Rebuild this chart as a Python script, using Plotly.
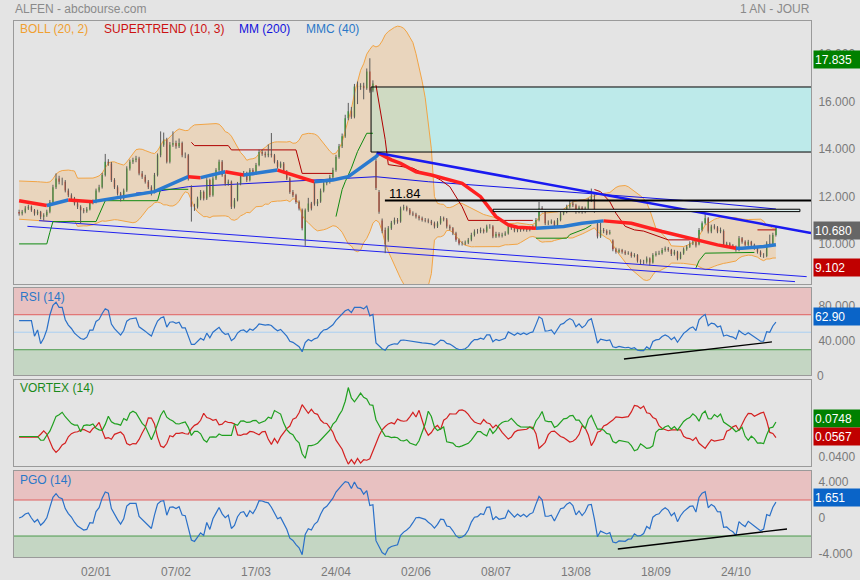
import numpy as np
import pandas as pd
import plotly.graph_objects as go

# ---------------- data (bar index 0..246) ----------------
closes = [11.29,11.36,11.50,11.57,11.43,11.29,11.36,11.15,11.22,11.36,
11.78,12.40,12.77,12.63,12.63,12.26,12.06,11.92,11.71,11.57,
11.43,11.39,11.47,11.78,11.78,12.26,12.40,12.91,13.47,13.40,
12.70,12.40,12.13,11.92,12.26,13.19,13.47,13.54,13.61,12.98,
12.84,12.63,12.40,12.20,12.91,13.74,14.19,14.40,13.47,14.19,
14.26,14.12,14.26,13.74,13.74,12.77,11.57,11.57,11.92,12.20,
11.92,12.70,12.06,12.77,13.12,13.47,12.91,12.54,12.63,11.57,
11.85,12.54,12.91,12.98,12.70,13.12,12.98,13.33,13.88,13.81,
13.74,13.81,13.74,13.47,13.26,13.40,13.05,12.77,12.20,12.06,
11.78,11.50,10.67,11.43,11.71,11.50,11.70,11.80,12.25,12.57,
12.62,12.82,13.12,13.67,14.12,14.55,15.30,15.60,15.37,16.64,
16.62,16.67,16.57,17.27,16.47,16.77,12.37,11.36,10.55,10.00,
10.67,10.90,11.02,10.95,11.50,11.55,11.45,11.29,11.25,11.16,
11.09,11.02,11.00,10.95,10.88,10.74,10.88,11.09,11.04,10.74,
10.67,10.46,10.18,10.03,10.03,10.07,10.18,10.39,10.53,10.53,
10.60,10.53,10.74,10.74,10.32,10.43,10.35,10.40,10.45,10.74,
10.67,10.57,10.67,10.60,10.67,10.60,10.67,10.70,11.02,11.50,
11.43,10.88,10.90,10.95,10.74,11.02,11.29,11.36,11.57,11.71,
11.64,11.36,11.54,11.36,11.50,11.85,11.99,11.40,10.32,10.60,
10.55,10.45,10.50,9.78,9.68,9.75,9.68,9.61,9.63,9.50,
9.54,9.30,9.26,9.26,9.40,9.23,9.54,9.61,9.63,9.75,
9.82,9.75,9.58,9.68,9.40,9.61,9.78,9.89,10.03,10.10,
9.94,10.60,10.88,11.09,10.53,10.74,10.70,10.53,10.60,9.97,
10.03,9.94,9.89,9.75,10.25,10.10,9.97,10.10,9.97,9.84,
9.68,9.54,9.54,10.03,9.99,10.39,10.68]

opens = [11.35,11.29,11.36,11.50,11.57,11.43,11.29,11.36,11.15,11.22,
11.36,11.78,12.40,12.77,12.63,12.63,12.26,12.06,11.92,11.71,
11.57,11.43,11.39,11.47,11.78,11.78,12.26,12.40,12.91,13.47,
13.40,12.70,12.40,12.13,11.92,12.26,13.19,13.47,13.54,13.61,
12.98,12.84,12.63,12.40,12.20,12.91,13.74,14.19,14.40,13.47,
14.19,14.26,14.12,14.26,13.74,13.74,12.40,11.57,11.57,11.92,
12.20,11.92,12.70,12.06,12.77,13.12,13.47,12.91,12.54,12.63,
11.57,11.85,12.54,12.91,12.98,12.70,13.12,12.98,13.33,13.88,
13.81,13.74,13.81,13.74,13.47,13.26,13.40,13.05,12.77,12.20,
12.06,11.78,11.45,10.20,11.43,11.71,12.55,11.70,11.80,12.25,
12.57,12.62,12.82,13.12,13.67,14.12,14.55,15.30,15.60,15.37,
16.64,16.62,16.67,16.57,17.27,16.47,13.50,12.20,11.00,10.60,
10.18,10.67,10.90,11.02,10.95,11.50,11.55,11.45,11.29,11.25,
11.16,11.09,11.02,11.00,10.95,10.88,10.74,10.88,11.09,11.04,
10.74,10.67,10.46,10.18,10.03,10.03,10.07,10.18,10.39,10.53,
10.53,10.60,10.53,10.74,10.74,10.32,10.43,10.35,10.40,10.45,
10.74,10.67,10.57,10.67,10.60,10.67,10.60,10.67,10.70,11.02,
11.50,11.43,10.88,10.90,10.95,10.74,11.02,11.29,11.36,11.57,
11.71,11.64,11.36,11.54,11.36,11.50,11.85,11.90,10.85,10.32,
10.60,10.55,10.45,10.15,9.78,9.68,9.75,9.68,9.61,9.63,
9.50,9.54,9.30,9.26,9.26,9.40,9.23,9.54,9.61,9.63,
9.75,9.82,9.75,9.58,9.68,9.40,9.61,9.78,9.89,10.03,
10.10,10.00,10.60,10.88,11.09,10.53,10.74,10.70,10.53,10.55,
9.97,10.03,9.94,9.89,9.75,10.25,10.10,9.97,10.10,9.97,
9.84,9.68,9.54,9.50,10.03,9.99,10.39]

highs = [11.45,11.44,11.60,11.66,11.63,11.48,11.45,11.40,11.30,11.45,
11.86,12.50,12.98,12.88,12.80,12.70,12.34,12.14,11.99,11.80,
11.64,11.52,11.56,11.86,11.88,12.34,12.50,13.00,13.80,13.58,
13.46,12.78,12.48,12.20,12.34,13.28,13.56,13.64,13.72,13.68,
13.08,12.92,12.70,12.48,13.00,13.82,14.75,14.70,14.48,14.30,
14.75,14.36,14.45,14.32,13.86,13.80,12.48,11.70,12.00,12.28,
12.26,12.78,12.76,12.85,13.20,13.56,13.54,12.98,12.72,12.68,
11.94,12.62,13.00,13.08,13.05,13.20,13.20,13.42,13.98,13.98,
13.90,14.20,14.68,13.80,13.54,13.48,13.46,13.12,12.82,12.28,
12.12,11.84,11.50,11.50,11.95,11.78,12.62,11.90,12.34,12.66,
12.72,12.92,13.22,13.76,14.22,14.66,15.45,15.95,15.78,16.75,
16.85,16.78,16.80,17.40,17.83,16.90,13.60,12.28,11.08,10.70,
10.76,10.98,11.12,11.10,11.58,11.66,11.62,11.52,11.38,11.32,
11.22,11.16,11.10,11.08,11.02,10.95,10.96,11.18,11.16,11.10,
10.82,10.72,10.52,10.24,10.12,10.15,10.26,10.48,10.62,10.64,
10.70,10.66,10.82,10.84,10.80,10.52,10.50,10.48,10.54,10.82,
10.80,10.72,10.75,10.74,10.75,10.72,10.75,10.80,11.10,11.78,
11.60,11.48,11.00,11.04,11.00,11.10,11.38,11.45,11.66,11.82,
11.80,11.70,11.62,11.60,11.58,11.94,12.34,12.10,10.92,10.90,
10.68,10.62,10.60,10.20,9.85,9.82,9.80,9.74,9.70,9.68,
9.62,9.58,9.36,9.34,9.48,9.44,9.62,9.70,9.72,9.84,
9.90,9.88,9.80,9.76,9.72,9.68,9.86,9.96,10.12,10.18,
10.15,10.68,10.96,11.30,11.14,10.82,10.84,10.76,10.70,10.62,
10.10,10.08,10.00,9.94,10.34,10.30,10.16,10.18,10.14,10.02,
9.90,9.74,9.62,10.12,10.40,10.48,10.76]

lows = [11.20,11.21,11.30,11.44,11.36,11.20,11.22,11.05,11.00,11.15,
11.30,11.72,12.32,12.52,12.48,12.18,11.98,11.84,11.63,11.48,
10.88,11.30,11.32,11.42,11.68,11.72,12.18,12.34,12.85,13.30,
12.62,12.32,12.05,11.80,11.86,12.20,13.10,13.38,13.45,12.90,
12.75,12.55,12.32,12.05,12.14,12.85,13.66,14.10,13.40,13.40,
14.10,14.02,14.05,13.66,13.62,12.68,10.95,11.40,11.50,11.85,
11.84,11.86,11.98,12.00,12.70,13.05,12.84,12.46,12.46,11.48,
11.50,11.80,12.48,12.84,12.62,12.64,12.90,12.92,13.28,13.72,
13.65,13.66,13.65,13.40,13.18,13.20,12.98,12.70,12.12,11.98,
11.70,11.42,10.58,9.93,11.36,11.42,11.62,11.60,11.74,12.18,
12.48,12.55,12.75,13.05,13.60,14.05,14.48,15.22,15.28,15.30,
15.90,16.50,16.10,16.50,16.38,16.40,12.28,11.28,10.46,9.62,
10.10,10.60,10.82,10.86,10.90,11.42,11.38,11.22,11.18,11.08,
11.00,10.95,10.92,10.88,10.80,10.66,10.68,10.82,10.96,10.66,
10.58,10.38,10.10,9.95,9.94,9.96,10.00,10.12,10.32,10.44,
10.46,10.45,10.48,10.65,10.25,10.26,10.28,10.28,10.34,10.40,
10.60,10.50,10.50,10.52,10.54,10.52,10.54,10.60,10.64,10.96,
11.34,10.80,10.80,10.84,10.66,10.68,10.96,11.22,11.30,11.50,
11.56,11.28,11.30,11.28,11.30,11.44,11.78,11.32,10.24,10.26,
10.46,10.38,10.40,9.70,9.60,9.62,9.60,9.54,9.55,9.43,
9.44,9.22,9.14,9.15,9.18,9.10,9.18,9.48,9.54,9.56,
9.68,9.68,9.50,9.52,9.32,9.36,9.55,9.72,9.84,9.96,
9.86,9.95,10.54,10.82,10.45,10.46,10.62,10.46,10.46,9.90,
9.90,9.86,9.82,9.68,9.70,10.02,9.90,9.90,9.90,9.76,
9.60,9.46,9.42,9.45,9.92,9.94,10.32]

# Bollinger band values read for the first 19 bars (window still filling with visible data)
bb_up_head = [12.66,12.66,12.66,12.65,12.65,12.64,12.63,12.62,12.60,12.60,
              12.62,12.75,12.95,13.05,13.10,13.12,13.12,13.10,13.08]
bb_dn_head = [11.05,11.04,11.03,11.02,11.01,11.00,11.00,10.99,10.98,10.97,
              10.96,10.94,10.93,10.93,10.94,10.95,10.96,10.97,10.98]

# date tick labels (every 26 bars starting at bar 25)
tick_idx = [25, 51, 77, 103, 129, 155, 181, 207, 233]
tick_lab = ["02/01", "07/02", "17/03", "24/04", "02/06", "08/07", "13/08", "18/09", "24/10"]

# MMC(40) coloured moving average, read points (bar, value)
mmc_i = [0, 8, 9, 16, 24, 44, 55, 59, 67, 73, 84, 96, 102, 107, 111, 116, 117, 121, 124, 129, 134,
         144, 150, 155, 159, 162, 168, 177, 183, 190, 194, 199, 209, 220, 227, 233, 235, 242, 246]
mmc_v = [11.83, 11.65, 11.63, 11.86, 11.79, 12.21, 12.84, 12.80, 13.05, 12.91, 13.12, 12.63, 12.70,
         12.84, 13.20, 13.68, 13.82, 13.55, 13.40, 13.05, 12.91, 12.56, 12.00, 11.16, 10.81, 10.71,
         10.67, 10.74, 10.88, 10.98, 10.95, 10.88, 10.53, 10.18, 9.97, 9.83, 9.83, 9.90, 9.97]

# MM(200)
mm200_i = [38, 44, 55, 116, 133, 213, 221, 246]
mm200_v = [12.15, 12.21, 12.42, 12.84, 12.63, 11.86, 11.79, 11.48]

# SUPERTREND (10,3) segments
st_up = [([0, 9, 10, 11, 25, 27, 28, 45, 46, 55],
          [10.01, 10.01, 10.5, 10.95, 10.95, 11.5, 11.83, 11.83, 12.31, 12.31]),
         ([103, 104, 105, 106, 108, 110, 112, 113, 115],
          [11.16, 11.7, 12.3, 12.63, 13.2, 13.9, 14.4, 14.67, 14.67]),
         ([168, 178, 179, 184, 186], [10.25, 10.25, 10.4, 10.65, 10.8]),
         ([220, 221, 223, 239], [9.0, 9.3, 9.62, 9.65])]
st_dn = [([56, 57, 68, 69, 90, 92, 102], [14.29, 14.15, 14.15, 13.97, 13.97, 12.98, 12.98]),
         ([116, 119, 120, 128, 131, 134, 137, 140, 144, 146, 167],
          [16.7, 14.4, 13.35, 13.2, 13.0, 12.91, 12.7, 12.42, 11.58, 11.0, 11.0]),
         ([187, 189, 192, 194, 197, 200, 203, 206, 209, 211, 218],
          [12.3, 12.21, 11.79, 11.3, 10.75, 10.6, 10.55, 10.4, 10.25, 10.18, 10.18]),
         ([240, 246], [10.6, 10.6])]

# drawn objects (bar, price)
trend_i, trend_v = [116.2, 257.4], [13.85, 10.47]
res_i, res_v = [118.9, 257.4], [11.84, 11.84]
chanA_i, chanA_v = [6.5, 256.0], [10.99, 8.63]
chanB_i, chanB_v = [2.7, 252.2], [10.75, 8.42]
rect_i, rect_v = [114.4, 257.4], [13.88, 16.62]
srect_i, srect_v = [154.1, 253.8], [11.37, 11.47]
rsi_tl_i, rsi_tl_v = [196.6, 244.7], [19.4, 38.9]
pgo_tl_i, pgo_tl_v = [194.6, 249.6], [-3.44, -1.22]

# ---------------- indicators ----------------
N = len(closes)
idx = np.arange(N)
c = pd.Series(closes, dtype=float)
h = pd.Series(highs, dtype=float)
l = pd.Series(lows, dtype=float)

mid = c.rolling(20, min_periods=1).mean()
sd = c.rolling(20, min_periods=1).std(ddof=0)
bb_up = (mid + 2 * sd).to_numpy()
bb_dn = (mid - 2 * sd).to_numpy()
bb_up[:len(bb_up_head)] = bb_up_head
bb_dn[:len(bb_dn_head)] = bb_dn_head

d = c.diff()
gain = d.clip(lower=0).fillna(0)
loss = (-d.clip(upper=0)).fillna(0)
ag = gain.ewm(alpha=1 / 14, adjust=True).mean()
al = loss.ewm(alpha=1 / 14, adjust=True).mean()
rsi = (100 - 100 / (1 + ag / al.replace(0, np.nan))).bfill()

pc = c.shift()
tr = pd.concat([h - l, (h - pc).abs(), (l - pc).abs()], axis=1).max(axis=1)
atr = tr.ewm(span=14, adjust=True).mean()
pgo = (c - c.rolling(14, min_periods=1).mean()) / atr

vmp = (h - l.shift()).abs()
vmm = (l - h.shift()).abs()
trs = tr.rolling(14, min_periods=6).sum()
vip = (vmp.rolling(14, min_periods=6).sum() / trs / 14).bfill()
vim = (vmm.rolling(14, min_periods=6).sum() / trs / 14).bfill()

# ---------------- figure ----------------
BG = "#e4e4e4"
FONT = "Liberation Sans, Arial, sans-serif"
GRAY = "#7a7a7a"
fig = go.Figure()

# Bollinger band
fig.add_trace(go.Scatter(x=idx, y=bb_dn, mode="lines", line=dict(color="#f2a444", width=1),
                         xaxis="x", yaxis="y", hoverinfo="skip"))
fig.add_trace(go.Scatter(x=idx, y=bb_up, mode="lines", line=dict(color="#f2a444", width=1),
                         fill="tonexty", fillcolor="rgba(245,185,110,0.32)",
                         xaxis="x", yaxis="y", hoverinfo="skip"))

# MM200
fig.add_trace(go.Scatter(x=mm200_i, y=mm200_v, mode="lines", line=dict(color="#1515e6", width=1),
                         xaxis="x", yaxis="y"))

# channel lines
for xi, yv in [(chanA_i, chanA_v), (chanB_i, chanB_v)]:
    fig.add_trace(go.Scatter(x=xi, y=yv, mode="lines", line=dict(color="#2020f0", width=1),
                             xaxis="x", yaxis="y"))

# supertrend
for xi, yv in st_up:
    fig.add_trace(go.Scatter(x=xi, y=yv, mode="lines", line=dict(color="#108a10", width=1),
                             xaxis="x", yaxis="y"))
for xi, yv in st_dn:
    fig.add_trace(go.Scatter(x=xi, y=yv, mode="lines", line=dict(color="#b00000", width=1),
                             xaxis="x", yaxis="y"))

# wicks
wx, wy = [], []
for i in range(N):
    wx += [i, i, None]
    wy += [lows[i], highs[i], None]
fig.add_trace(go.Scatter(x=wx, y=wy, mode="lines", line=dict(color="#5a5a5a", width=1),
                         xaxis="x", yaxis="y"))

# candles
fig.add_trace(go.Candlestick(x=idx, open=opens, high=highs, low=lows, close=closes,
                             increasing=dict(fillcolor="#22d322", line=dict(color="#22d322", width=0)),
                             decreasing=dict(fillcolor="#ee2a1a", line=dict(color="#ee2a1a", width=0)),
                             whiskerwidth=0, xaxis="x", yaxis="y"))

# MMC40 coloured by slope
runs = []
rx, ry, cur = [mmc_i[0]], [mmc_v[0]], None
for k in range(1, len(mmc_i)):
    dr = "up" if mmc_v[k] >= mmc_v[k - 1] else "dn"
    if cur is None or dr == cur:
        rx.append(mmc_i[k]); ry.append(mmc_v[k]); cur = dr
    else:
        runs.append((cur, rx, ry))
        rx, ry, cur = [mmc_i[k - 1], mmc_i[k]], [mmc_v[k - 1], mmc_v[k]], dr
runs.append((cur, rx, ry))
for dr, xs, ys in runs:
    fig.add_trace(go.Scatter(x=xs, y=ys, mode="lines",
                             line=dict(color="#2a7ad0" if dr == "up" else "#ff2020", width=3.5),
                             xaxis="x", yaxis="y"))

# drawn lines
fig.add_trace(go.Scatter(x=trend_i, y=trend_v, mode="lines", line=dict(color="#1a1af0", width=2.5),
                         xaxis="x", yaxis="y"))
fig.add_trace(go.Scatter(x=res_i, y=res_v, mode="lines", line=dict(color="#000000", width=2),
                         xaxis="x", yaxis="y"))

# RSI
fig.add_trace(go.Scatter(x=idx, y=rsi, mode="lines", line=dict(color="#2a70c8", width=1.2),
                         xaxis="x2", yaxis="y2"))
fig.add_trace(go.Scatter(x=rsi_tl_i, y=rsi_tl_v, mode="lines", line=dict(color="#000", width=1.3),
                         xaxis="x2", yaxis="y2"))
# Vortex
fig.add_trace(go.Scatter(x=idx, y=vim, mode="lines", line=dict(color="#d42020", width=1.2),
                         xaxis="x3", yaxis="y3"))
fig.add_trace(go.Scatter(x=idx, y=vip, mode="lines", line=dict(color="#20a020", width=1.2),
                         xaxis="x3", yaxis="y3"))
# PGO
fig.add_trace(go.Scatter(x=idx, y=pgo, mode="lines", line=dict(color="#2a70c8", width=1.2),
                         xaxis="x4", yaxis="y4"))
fig.add_trace(go.Scatter(x=pgo_tl_i, y=pgo_tl_v, mode="lines", line=dict(color="#000", width=1.3),
                         xaxis="x4", yaxis="y4"))

# ---------------- shapes ----------------
shapes = []
shapes.append(dict(type="rect", xref="x", yref="y", x0=rect_i[0], x1=rect_i[1], y0=rect_v[0], y1=rect_v[1],
                   fillcolor="rgba(150,240,240,0.5)", line=dict(width=0), layer="below"))
for yv in rect_v:
    shapes.append(dict(type="line", xref="x", yref="y", x0=rect_i[0], x1=rect_i[1], y0=yv, y1=yv,
                       line=dict(color="#000", width=1)))
shapes.append(dict(type="line", xref="x", yref="y", x0=rect_i[0], x1=rect_i[0], y0=rect_v[0], y1=rect_v[1],
                   line=dict(color="#000", width=1)))
shapes.append(dict(type="rect", xref="x", yref="y", x0=srect_i[0], x1=srect_i[1], y0=srect_v[0], y1=srect_v[1],
                   fillcolor="#dcefee", line=dict(color="#000", width=1)))

def zone(yref, y0, y1, col):
    shapes.append(dict(type="rect", xref="paper", yref=yref, x0=0, x1=1, y0=y0, y1=y1,
                       fillcolor=col, line=dict(width=0), layer="below"))

def hline(yref, yv, col):
    shapes.append(dict(type="line", xref="paper", yref=yref, x0=0, x1=1, y0=yv, y1=yv,
                       line=dict(color=col, width=1), layer="below"))

zone("y2", 70, 100.57, "#e8c1c1")
zone("y2", 1.14, 30, "#c4d6c3")
hline("y2", 70, "#e06060")
hline("y2", 50, "#a9cff2")
hline("y2", 30, "#4c9a4c")
zone("y4", 2, 5.22, "#e8c1c1")
zone("y4", -4.33, -2, "#c4d6c3")
hline("y4", 2, "#e06060")
hline("y4", -2, "#4c9a4c")

# ---------------- annotations ----------------
def px2x(px):
    return (px - 14) / 797.0

def py2y(py):
    return (557 - py) / 536.0

ann = []
def text(px, py, s, col, size=12, anchor="left"):
    ann.append(dict(x=px2x(px), y=py2y(py), xref="paper", yref="paper", text=s, showarrow=False,
                    xanchor=anchor, yanchor="middle", font=dict(family=FONT, size=size, color=col)))

text(13, 9, "ALFEN - abcbourse.com", "#8a8a8a", 12)
text(812, 9, "1 AN - JOUR", "#8a8a8a", 12, "right")
text(18, 29, "BOLL (20, 2)", "#f0a030")
text(102, 29, "SUPERTREND (10, 3)", "#cc1111")
text(237, 29, "MM (200)", "#1212dd")
text(304, 29, "MMC (40)", "#2a78c8")
text(18, 297, "RSI (14)", "#2a78c8")
text(18, 388, "VORTEX (14)", "#1a8a1a")
text(18, 480, "PGO (14)", "#2a78c8")
text(815, 376, "0", GRAY, 12)

def vbox(py, s, bg):
    ann.append(dict(x=px2x(813), y=py2y(py), xref="paper", yref="paper", text=s, showarrow=False,
                    xanchor="left", yanchor="middle", align="left", width=45, height=15, borderpad=1,
                    bgcolor=bg, font=dict(family=FONT, size=12, color="white")))

vbox(60, "17.835", "#008000")
vbox(230, "10.680", "#666666")
vbox(267, "9.102", "#c00000")
vbox(316, "62.90", "#0a64c8")
vbox(418, "0.0748", "#008000")
vbox(436, "0.0567", "#c00000")
vbox(497, "1.651", "#0a64c8")

ann.append(dict(x=125.4, y=12.14, xref="x", yref="y", text="11.84", showarrow=False,
                xanchor="center", yanchor="middle", font=dict(family=FONT, size=13, color="#000")))

# ---------------- axes ----------------
xr = [-1.66, 257.4]
def xax(show, anchor):
    return dict(range=xr, showgrid=False, zeroline=False, showline=True, mirror=True,
                linecolor="#9a9a9a", linewidth=1, showticklabels=show, anchor=anchor,
                tickvals=tick_idx, ticktext=tick_lab, ticks="", fixedrange=True, automargin=False,
                tickfont=dict(family=FONT, size=12, color=GRAY), rangeslider=dict(visible=False))

def yax(dom, rng, tv, tt):
    return dict(domain=dom, range=rng, side="right", showgrid=False, zeroline=False, showline=True,
                mirror=True, linecolor="#9a9a9a", linewidth=1, tickvals=tv, ticktext=tt, ticks="",
                automargin=False, fixedrange=True,
                tickfont=dict(family=FONT, size=12, color=GRAY), ticklabelstandoff=4)

fig.update_layout(
    width=860, height=580, margin=dict(l=14, r=49, t=21, b=23, autoexpand=False),
    paper_bgcolor=BG, plot_bgcolor=BG, showlegend=False,
    font=dict(family=FONT),
    xaxis=xax(False, "y"),
    xaxis2=dict(xax(False, "y2"), matches="x"),
    xaxis3=dict(xax(False, "y3"), matches="x"),
    xaxis4=dict(xax(True, "y4"), matches="x", ticklabelstandoff=4),
    yaxis=yax([0.5093, 1.0], [8.32, 19.40], [10, 12, 14, 16, 18],
              ["10.000", "12.000", "14.000", "16.000", "18.000"]),
    yaxis2=yax([0.3396, 0.5019], [1.14, 100.57], [40, 80], ["40.000", "80.000"]),
    yaxis3=yax([0.1698, 0.3302], [0.0294, 0.125], [0.04], ["0.0400"]),
    yaxis4=yax([0.0, 0.1604], [-4.33, 5.22], [-4, 0, 4], ["-4.000", "0", "4.000"]),
    shapes=shapes, annotations=ann,
)

fig.write_html("out.html", config={"displayModeBar": False},
               post_script="document.body.style.margin='0';document.body.style.overflow='hidden';")
